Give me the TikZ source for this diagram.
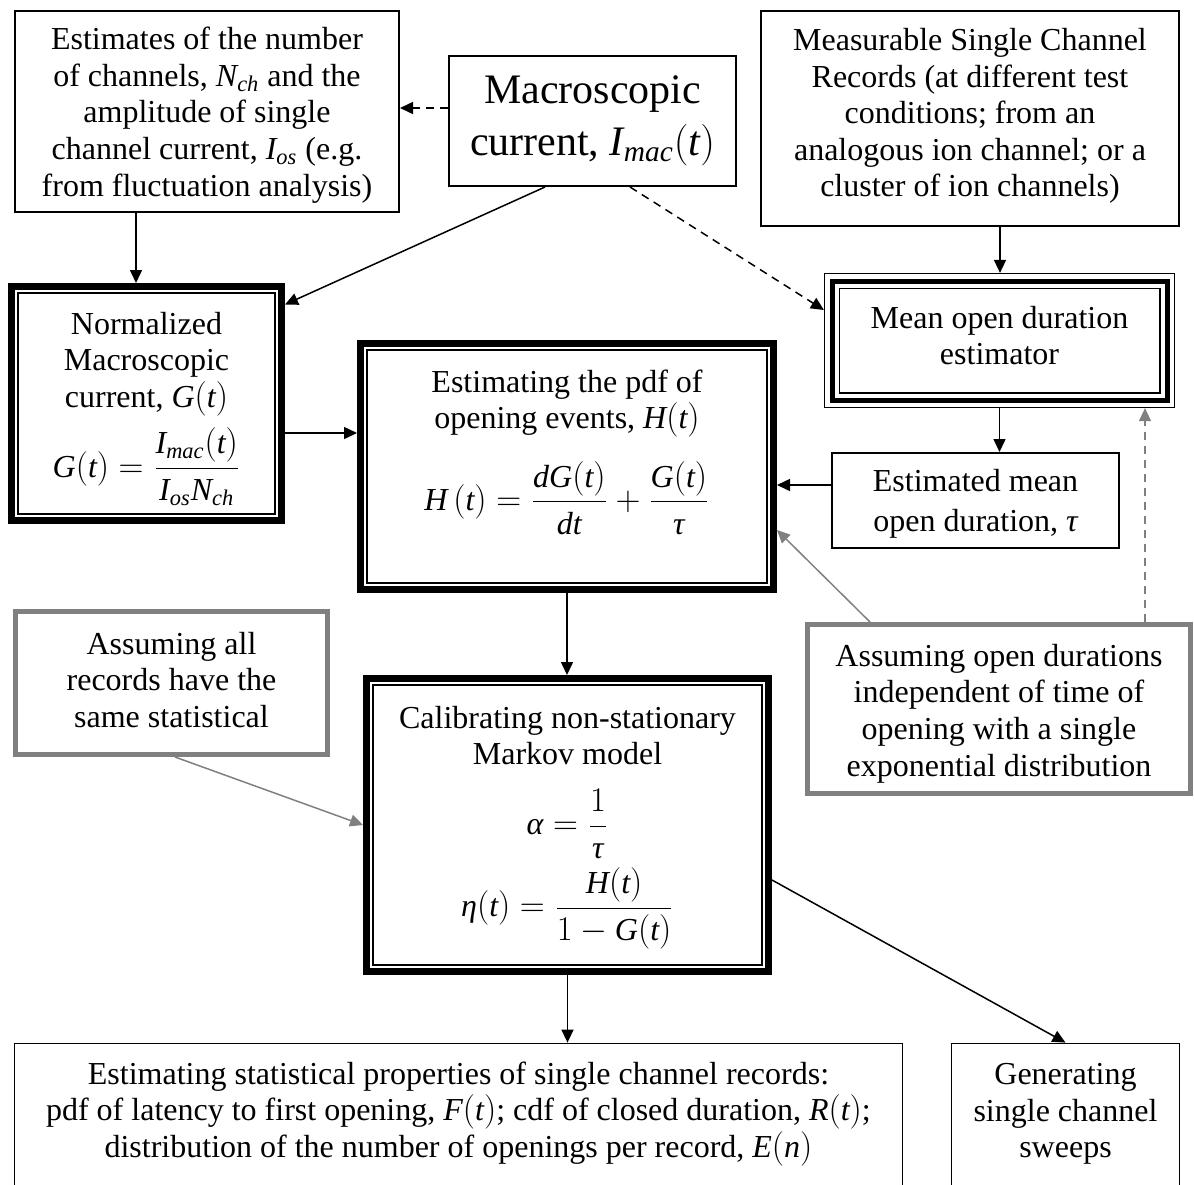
\documentclass[tikz,border=0pt]{standalone}
\usepackage{fontspec}
\setmainfont{Liberation Serif}
\usetikzlibrary{arrows.meta,calc}
\definecolor{boxgray}{RGB}{128,128,128}
\newcommand\vi[1]{\mathit{#1}}
\newcommand\pt[1]{\mathrm{(}#1\mathrm{)}}
\newcommand\gtau{\mbox{\itshape τ}}
\newcommand\galpha{\mbox{\itshape α}}
\newcommand\geta{\mbox{\itshape η}}
\begin{document}
\begin{tikzpicture}[x=0.5pt,y=-0.5pt,
  every node/.style={font=\fontsize{16}{18.3}\selectfont, align=center, inner sep=0pt},
  thinbox/.style={draw, line width=0.8pt, rectangle},
  boldbox/.style={draw, line width=3.5pt, rectangle},
  graybox/.style={draw=boxgray, line width=2.5pt, rectangle},
  arr/.style={-{Triangle[length=6.5pt,width=6pt]}, line width=0.75pt},
  garr/.style={arr, draw=boxgray},
  dsh/.style={dash pattern=on 4pt off 3pt},
  innerline/.style={line width=0.6pt}
]
\useasboundingbox (0,0) rectangle (1194,1184);

% boxes
\node[thinbox, minimum width=192.2pt, minimum height=100.7pt] (est) at (207,111.5) {};
\node (estt) at (207,115)
  {Estimates of the number\\ of channels, $\vi{N}_{\vi{ch}}$ and the\\ amplitude of single\\ channel current, $\vi{I}_{\vi{os}}$ (e.g.\\ from fluctuation analysis)};
\node[thinbox, minimum width=143.7pt, minimum height=65.2pt] (mac) at (592.5,121) {};
\node[font=\fontsize{21}{26}\selectfont] (mact) at (592.5,121)
  {Macroscopic\\ current, $\vi{I}_{\vi{mac}}\pt{\vi{t}}$};
\node[thinbox, minimum width=209.2pt, minimum height=107.7pt] (meas) at (970,118.5) {};
\node (meast) at (970,116)
  {Measurable Single Channel\\ Records (at different test\\ conditions; from an\\ analogous ion channel; or a\\ cluster of ion channels)};

\node[boldbox, minimum width=135pt, minimum height=117pt] (norm) at (146.5,403.5) {};
\draw[innerline] ([shift={(5pt,5pt)}]norm.south west) rectangle ([shift={(-5pt,-5pt)}]norm.north east);
\node (normt) at (146.5,409)
  {Normalized\\ Macroscopic\\ current, $\vi{G}\pt{\vi{t}}$\\[5pt]
   $\displaystyle \vi{G}\pt{\vi{t}}=\frac{\vi{I}_{\vi{mac}}\pt{\vi{t}}}{\vi{I}_{\vi{os}}\vi{N}_{\vi{ch}}}$};

\node[boldbox, minimum width=206.5pt, minimum height=123pt] (pdf) at (567,466.5) {};
\draw[innerline] ([shift={(5pt,5pt)}]pdf.south west) rectangle ([shift={(-5pt,-5pt)}]pdf.north east);
\node (pdft) at (567,452)
  {Estimating the pdf of\\ opening events, $\vi{H}\pt{\vi{t}}$\\[11pt]
   $\displaystyle \vi{H}\,\pt{\vi{t}}=\frac{\vi{dG}\pt{\vi{t}}}{\vi{dt}}+\frac{\vi{G}\pt{\vi{t}}}{\gtau}$};

\node[draw, line width=0.6pt, minimum width=175pt, minimum height=67pt] (mean) at (999.5,340.5) {};
\draw[line width=2.5pt] ([shift={(4.05pt,4.05pt)}]mean.south west) rectangle ([shift={(-4.05pt,-4.05pt)}]mean.north east);
\draw[innerline] ([shift={(7.6pt,7.6pt)}]mean.south west) rectangle ([shift={(-7.6pt,-7.6pt)}]mean.north east);
\node (meant) at (999.5,335.5) {Mean open duration\\ estimator};

\node[thinbox, minimum width=143.7pt, minimum height=47.7pt] (estm) at (975.5,500.5) {};
\node[font=\fontsize{16}{20}\selectfont] (estmt) at (975.5,504)
  {Estimated mean\\ open duration, $\gtau$};

\node[graybox, minimum width=156pt, minimum height=71.5pt] (aa) at (171.5,683) {};
\node (aat) at (171.5,680) {Assuming all\\ records have the\\ same statistical};
\node[graybox, minimum width=191.5pt, minimum height=84.5pt] (ao) at (999,709) {};
\node (aot) at (999,713.5)
  {Assuming open durations\\ independent of time of\\ opening with a single\\ exponential distribution};

\node[boldbox, minimum width=201pt, minimum height=146.5pt] (cal) at (567.5,825) {};
\draw[innerline] ([shift={(5pt,5pt)}]cal.south west) rectangle ([shift={(-5pt,-5pt)}]cal.north east);
\node (calt) at (567.5,827.5)
  {Calibrating non-stationary\\ Markov model\\[11pt]
   $\displaystyle \galpha=\frac{1}{\gtau}$\\[3.5pt]
   $\displaystyle \geta\pt{\vi{t}}=\frac{\vi{H}\pt{\vi{t}}}{1-\vi{G}\pt{\vi{t}}}$};

\node[thinbox, minimum width=444.1pt, minimum height=73.1pt] (stat) at (458.5,1116.5) {};
\node (statt) at (458.5,1114)
  {Estimating statistical properties of single channel records:\\
   pdf of latency to first opening, $\vi{F}\pt{\vi{t}}$; cdf of closed duration, $\vi{R}\pt{\vi{t}}$;\\
   distribution of the number of openings per record, $\vi{E}\pt{\vi{n}}$};
\node[thinbox, minimum width=114.1pt, minimum height=73.1pt] (gen) at (1065.5,1116.5) {};
\node (gent) at (1065.5,1114) {Generating\\ single channel\\ sweeps};

% connectors
\draw[arr,dsh] ([yshift=6.5pt]mac.west) -- ([yshift=6.5pt]mac.west -| est.east);
\draw[arr] ([xshift=-35.5pt]est.south) -- ([xshift=-35.5pt]est.south |- norm.north);
\draw[arr] ([xshift=-23.75pt]mac.south) -- ([yshift=49.5pt]norm.east);
\draw[arr,dsh] ([xshift=18.75pt]mac.south) -- ([yshift=15.25pt]mean.west);
\draw[arr] ([xshift=15pt]meas.south) -- ([xshift=15pt]meas.south |- mean.north);
\draw[arr] ([yshift=-14.75pt]norm.east) -- ([yshift=-14.75pt]norm.east -| pdf.west);
\draw[arr] (mean.south) -- (mean.south |- estm.north);
\draw[arr] ([yshift=7.75pt]estm.west) -- ([yshift=7.75pt]estm.west -| pdf.east);
\draw[garr] ([xshift=-64.5pt]ao.north) -- ([yshift=-31.75pt]pdf.east);
\draw[garr,dsh] ([xshift=73pt]ao.north) -- ([xshift=73pt]ao.north |- mean.south);
\draw[arr] (pdf.south) -- (pdf.south |- cal.north);
\draw[garr] ([xshift=1.75pt]aa.south) -- (cal.west);
\draw[arr] (cal.south) -- (cal.south |- stat.north);
\draw[arr] ([yshift=-27.5pt]cal.east) -- (gen.north);
\end{tikzpicture}
\end{document}
